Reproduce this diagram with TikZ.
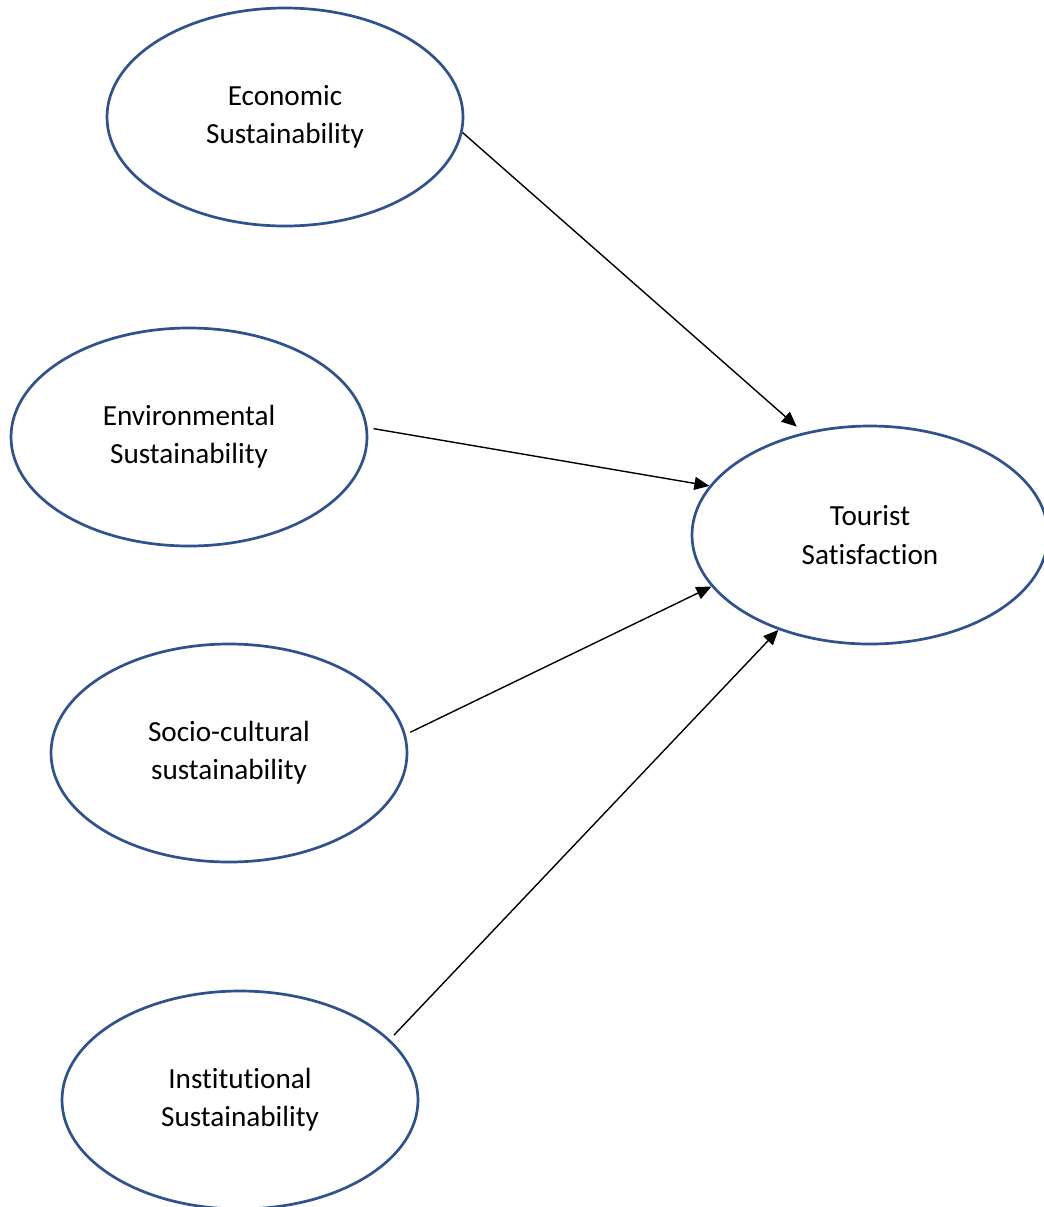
\documentclass[tikz,border=0pt]{standalone}
\usepackage{fontspec}
\setmainfont[Ligatures=NoCommon]{Carlito}
\usepackage{xcolor}
\usepackage{tikz}
\usetikzlibrary{shapes.geometric,arrows.meta}
\definecolor{oval}{HTML}{2F528F}

\begin{document}
\begin{tikzpicture}[x=0.5pt,y=-0.5pt,
  every node/.style={font=\fontsize{14.6}{19.2}\selectfont},
  factor/.style={ellipse,draw=oval,line width=1.35pt,align=center,inner sep=0pt,minimum width=178pt,minimum height=109pt},
  arr/.style={-{Triangle[length=7.5pt,width=6.5pt]},line width=0.7pt,black}]
  \fill[white] (0,0) rectangle (1044,1207);
  \useasboundingbox (0,0) rectangle (1044,1207);
  \node[factor] (econ) at (285,117) {Economic\\Sustainability};
  \node[factor] (env) at (189,437) {Environmental\\Sustainability};
  \node[factor] (soc) at (229,753) {Socio-cultural\\sustainability};
  \node[factor] (inst) at (240,1100) {Institutional\\Sustainability};
  \node[factor] (tour) at (870,535) {Tourist\\Satisfaction};
  \draw[arr,shorten >=4.5pt] (econ.-5) -- (tour.123);
  \draw[arr,shorten <=3pt] (env.3) -- (tour.163);
  \draw[arr,shorten <=2.5pt] (soc.6) -- (tour.198);
  \draw[arr,shorten <=3pt] (inst.22) -- (tour.226);
\end{tikzpicture}
\end{document}
